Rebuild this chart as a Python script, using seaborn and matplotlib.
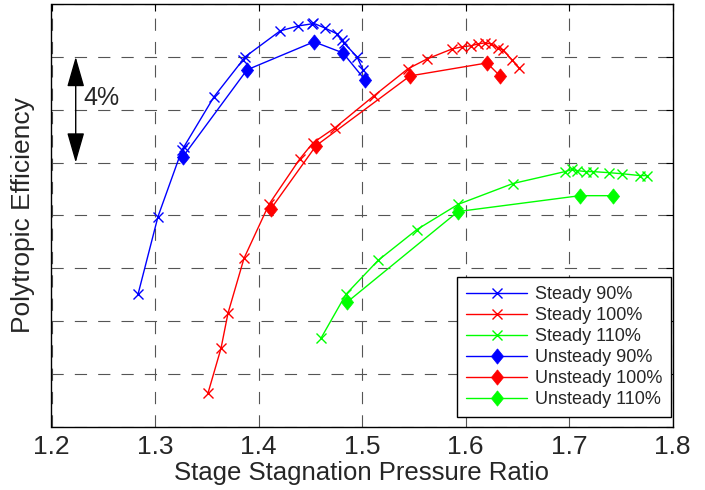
import numpy as np
import pandas as pd
import matplotlib
matplotlib.use("Agg")
import matplotlib.pyplot as plt
import seaborn as sns

# Stage pressure ratio vs polytropic efficiency (%) for three speed lines
steady90_pr = [1.2836, 1.3029, 1.3261, 1.3280, 1.3570, 1.3850, 1.3870, 1.4208, 1.4382,
               1.4517, 1.4527, 1.4643, 1.4758, 1.4807, 1.4826, 1.4952, 1.5010]
steady90_eff = [81.02, 83.96, 86.49, 86.60, 88.49, 89.89, 90.00, 90.98, 91.17,
                91.25, 91.28, 91.09, 90.87, 90.64, 90.53, 90.00, 89.51]

steady100_pr = [1.3512, 1.3638, 1.3705, 1.3860, 1.4101, 1.4401, 1.4527, 1.4739, 1.5116,
                1.5444, 1.5628, 1.5870, 1.5966, 1.6053, 1.6121, 1.6188, 1.6246, 1.6314,
                1.6362, 1.6449, 1.6517]
steady100_eff = [77.28, 78.98, 80.30, 82.38, 84.42, 86.15, 86.75, 87.32, 88.53,
                 89.55, 89.92, 90.30, 90.38, 90.42, 90.49, 90.53, 90.49, 90.34,
                 90.26, 89.89, 89.58]

steady110_pr = [1.4604, 1.4845, 1.5155, 1.5531, 1.5928, 1.6459, 1.6961, 1.7029, 1.7077,
                1.7164, 1.7232, 1.7386, 1.7512, 1.7686, 1.7754]
steady110_eff = [79.36, 81.02, 82.30, 83.47, 84.42, 85.21, 85.66, 85.74, 85.70,
                 85.66, 85.66, 85.62, 85.58, 85.51, 85.51]

unsteady90_pr = [1.3271, 1.3889, 1.4536, 1.4816, 1.5029]
unsteady90_eff = [86.23, 89.51, 90.57, 90.15, 89.13]

unsteady100_pr = [1.4121, 1.4556, 1.5464, 1.6208, 1.6333]
unsteady100_eff = [84.26, 86.64, 89.28, 89.77, 89.28]

unsteady110_pr = [1.4855, 1.5928, 1.7106, 1.7425]
unsteady110_eff = [80.72, 84.15, 84.75, 84.75]

x_ticks = [1.2, 1.3, 1.4, 1.5, 1.6, 1.7, 1.8]
x_tick_labels = ["1.2", "1.3", "1.4", "1.5", "1.6", "1.7", "1.8"]

sns.set_style("white")
plt.rcParams["font.family"] = ["Liberation Sans", "DejaVu Sans"]

fig = plt.figure(figsize=(7.05, 4.90), dpi=100)
ax = fig.add_axes([51.5 / 705, 1 - 427 / 490, 621 / 705, 423 / 490])

blue, red, green = "#0000ff", "#ff0000", "#00ff00"
diamond = [(0, 1), (0.8, 0), (0, -1), (-0.8, 0), (0, 1)]

series = [
    ("Steady 90%", steady90_pr, steady90_eff, blue, "x"),
    ("Steady 100%", steady100_pr, steady100_eff, red, "x"),
    ("Steady 110%", steady110_pr, steady110_eff, green, "x"),
    ("Unsteady 90%", unsteady90_pr, unsteady90_eff, blue, diamond),
    ("Unsteady 100%", unsteady100_pr, unsteady100_eff, red, diamond),
    ("Unsteady 110%", unsteady110_pr, unsteady110_eff, green, diamond),
]

for name, pr, eff, col, mk in series:
    df = pd.DataFrame({"pr": pr, "eff": eff})
    if mk == "x":
        sns.lineplot(data=df, x="pr", y="eff", sort=False, estimator=None, ax=ax,
                     color=col, lw=1.0, marker="x", markersize=6.5,
                     markeredgewidth=1.0, markeredgecolor=col, label=name)
    else:
        sns.lineplot(data=df, x="pr", y="eff", sort=False, estimator=None, ax=ax,
                     color=col, lw=1.0, marker=mk, markersize=11,
                     markeredgewidth=0.5, markeredgecolor=col,
                     markerfacecolor=col, label=name)

ax.set_xlim(1.2, 1.8)
ax.set_ylim(76, 92)
ax.set_xticks(x_ticks)
ax.set_xticklabels(x_tick_labels, fontsize=19)
ax.set_yticks(np.arange(76, 93, 2))
ax.set_yticklabels([])
ax.tick_params(direction="in", top=True, right=True, length=5, width=0.8,
               color="black", pad=6)
ax.grid(True, linestyle=(0, (11, 10)), color="#555555", lw=0.8)
for sp in ax.spines.values():
    sp.set_color("black")
    sp.set_linewidth(1.0)

ax.set_xlabel("Stage Stagnation Pressure Ratio", fontsize=18.5, labelpad=1)
ax.set_ylabel("Polytropic Efficiency", fontsize=19, labelpad=6)

# 4% scale bar
ax.annotate("", xy=(1.2234, 90.0), xytext=(1.2234, 86.0),
            arrowprops=dict(arrowstyle="<|-|>,head_length=0.94,head_width=0.27",
                            mutation_scale=20, color="black", lw=1.0,
                            shrinkA=0, shrinkB=0))
ax.text(1.2304, 88.45, "4%", fontsize=18, va="center", ha="left")

leg = ax.legend(loc="lower right", bbox_to_anchor=(0.9976, 0.024), borderaxespad=0,
                fontsize=13, frameon=True, fancybox=False, edgecolor="black",
                framealpha=1, handlelength=3.4, handletextpad=0.4,
                labelspacing=0.22, borderpad=0.5)
leg.get_frame().set_linewidth(1.0)

fig.savefig("out.png", dpi=100)
